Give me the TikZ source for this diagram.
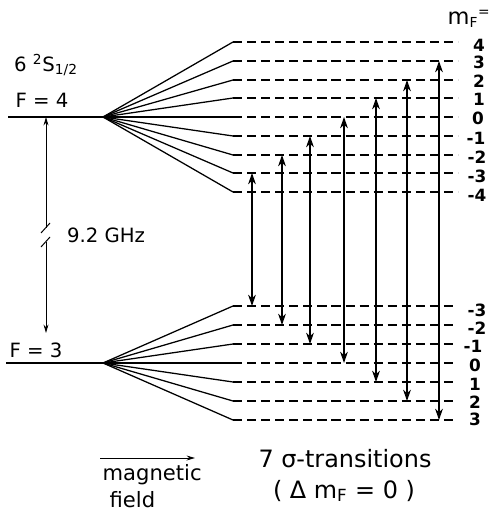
\documentclass[tikz,border=0pt]{standalone}
\usepackage{fontspec}
\setmainfont{DejaVu Sans}
\usetikzlibrary{arrows.meta}

\begin{document}
\begin{tikzpicture}[
    x=0.025cm,
    y=-0.025cm,
    fan/.style={line width=0.9pt},
    level/.style={line width=0.9pt, dash pattern=on 6.5pt off 3.5pt},
    trans/.style={
        line width=1.7pt,
        {Stealth[length=8pt,width=5.5pt]}-{Stealth[length=8pt,width=5.5pt]}
    },
    thinarrow/.style={line width=0.7pt, -{Stealth[length=6pt,width=3.5pt]}},
    every node/.style={font=\fontsize{14}{16}\selectfont, inner sep=1pt},
    mlabel/.style={font=\fontsize{12}{12}\selectfont\bfseries},
    bigtext/.style={font=\fontsize{17}{19}\selectfont}
]

\useasboundingbox (0,0) rectangle (491,511);

% F = 4 level and its Zeeman fan
\coordinate (F4w) at (8,117);
\coordinate (F4)  at (103,117);

\coordinate (u4)  at (233,42);
\coordinate (u3)  at (233,61);
\coordinate (u2)  at (233,80);
\coordinate (u1)  at (233,98);
\coordinate (u0)  at (233,117);
\coordinate (um1) at (233,136);
\coordinate (um2) at (233,155);
\coordinate (um3) at (233,173);
\coordinate (um4) at (233,192);

\coordinate (e4)  at (458,42);
\coordinate (e3)  at (458,61);
\coordinate (e2)  at (458,80);
\coordinate (e1)  at (458,98);
\coordinate (e0)  at (458,117);
\coordinate (em1) at (458,136);
\coordinate (em2) at (458,155);
\coordinate (em3) at (458,173);
\coordinate (em4) at (458,192);

\draw[fan] (F4w)--(F4);
\draw[fan] (F4)--(u4);
\draw[fan] (F4)--(u3);
\draw[fan] (F4)--(u2);
\draw[fan] (F4)--(u1);
\draw[fan] (F4)--(u0);
\draw[fan] (F4)--(um1);
\draw[fan] (F4)--(um2);
\draw[fan] (F4)--(um3);
\draw[fan] (F4)--(um4);

\draw[level] (u4)--(e4);
\draw[level] (u3)--(e3);
\draw[level] (u2)--(e2);
\draw[level] (u1)--(e1);
\draw[level] (u0)--(e0);
\draw[level] (um1)--(em1);
\draw[level] (um2)--(em2);
\draw[level] (um3)--(em3);
\draw[level] (um4)--(em4);

\node[mlabel] (n4)  at (479,45) {4};
\node[mlabel] (n3)  at (479,62) {3};
\node[mlabel] (n2)  at (479,81) {2};
\node[mlabel] (n1)  at (479,99) {1};
\node[mlabel] (n0)  at (478,118) {0};
\node[mlabel,anchor=east] (nm1) at (487,138) {-1};
\node[mlabel,anchor=east] (nm2) at (488,157) {-2};
\node[mlabel,anchor=east] (nm3) at (488,176) {-3};
\node[mlabel,anchor=east] (nm4) at (488,195) {-4};

\node (mF) at (469,19) {{\fontsize{16}{16}\selectfont m}\textsubscript{F}\textsuperscript{=}};

% F = 3 level and its Zeeman fan
\coordinate (F3w) at (6,363);
\coordinate (F3)  at (103,363);

\coordinate (lm3) at (233,306);
\coordinate (lm2) at (233,325);
\coordinate (lm1) at (233,344);
\coordinate (l0)  at (233,363);
\coordinate (l1)  at (233,382);
\coordinate (l2)  at (233,401);
\coordinate (l3)  at (233,420);

\coordinate (dm3) at (454,306);
\coordinate (dm2) at (454,325);
\coordinate (dm1) at (454,344);
\coordinate (d0)  at (454,363);
\coordinate (d1)  at (454,382);
\coordinate (d2)  at (454,401);
\coordinate (d3)  at (454,420);

\draw[fan] (F3w)--(F3);
\draw[fan] (F3)--(lm3);
\draw[fan] (F3)--(lm2);
\draw[fan] (F3)--(lm1);
\draw[fan] (F3)--(l0);
\draw[fan] (F3)--(l1);
\draw[fan] (F3)--(l2);
\draw[fan] (F3)--(l3);

\draw[level] (lm3)--(dm3);
\draw[level] (lm2)--(dm2);
\draw[level] (lm1)--(dm1);
\draw[level] (l0)--(d0);
\draw[level] (l1)--(d1);
\draw[level] (l2)--(d2);
\draw[level] (l3)--(d3);

\node[mlabel,anchor=east] (km3) at (488,310) {-3};
\node[mlabel,anchor=east] (km2) at (488,328) {-2};
\node[mlabel,anchor=east] (km1) at (484,346) {-1};
\node[mlabel] (k0) at (475,365) {0};
\node[mlabel] (k1) at (475,384) {1};
\node[mlabel] (k2) at (475,402) {2};
\node[mlabel] (k3) at (475,419) {3};

% sigma transitions, Delta m_F = 0
\coordinate (s1a) at (252,173);
\coordinate (s1b) at (252,306);
\coordinate (s2a) at (282,155);
\coordinate (s2b) at (282,325);
\coordinate (s3a) at (310,136);
\coordinate (s3b) at (310,344);
\coordinate (s4a) at (344,117);
\coordinate (s4b) at (344,363);
\coordinate (s5a) at (376,98);
\coordinate (s5b) at (376,382);
\coordinate (s6a) at (407,80);
\coordinate (s6b) at (407,401);
\coordinate (s7a) at (439,61);
\coordinate (s7b) at (439,420);

\draw[trans] (s1a)--(s1b);
\draw[trans] (s2a)--(s2b);
\draw[trans] (s3a)--(s3b);
\draw[trans] (s4a)--(s4b);
\draw[trans] (s5a)--(s5b);
\draw[trans] (s6a)--(s6b);
\draw[trans] (s7a)--(s7b);

% hyperfine splitting
\coordinate (g1) at (46,117);
\coordinate (g2) at (46,228);
\coordinate (g3) at (46,242);
\coordinate (g4) at (46,333);

\draw[thinarrow] (g2)--(g1);
\draw[thinarrow] (g3)--(g4);
\draw[line width=0.7pt] ([shift={(-5,5)}]g2)--([shift={(4,-5)}]g2);
\draw[line width=0.7pt] ([shift={(-5,5)}]g3)--([shift={(4,-5)}]g3);

\node (ghz) at (106,235) {9.2 GHz};

\node (term) at (46,65) {6 \textsuperscript{2}S\textsubscript{1/2}};
\node (F4lbl) at (42,100) {F = 4};
\node (F3lbl) at (36,350) {F = 3};

% field direction
\coordinate (mf1) at (100,458);
\coordinate (mf2) at (195,458);
\draw[thinarrow] (mf1)--(mf2);

\node[anchor=base west,font=\fontsize{15}{17}\selectfont] (magn) at (101,480) {magnetic};
\node[anchor=base west,font=\fontsize{15}{17}\selectfont] (fld) at (108,507) {field};

\node[bigtext,anchor=base] (ntrans) at (345,467) {7 σ-transitions};
\node[bigtext,anchor=base] (dmf) at (344,498) {( Δ m\textsubscript{F} = 0 )};

\end{tikzpicture}
\end{document}
